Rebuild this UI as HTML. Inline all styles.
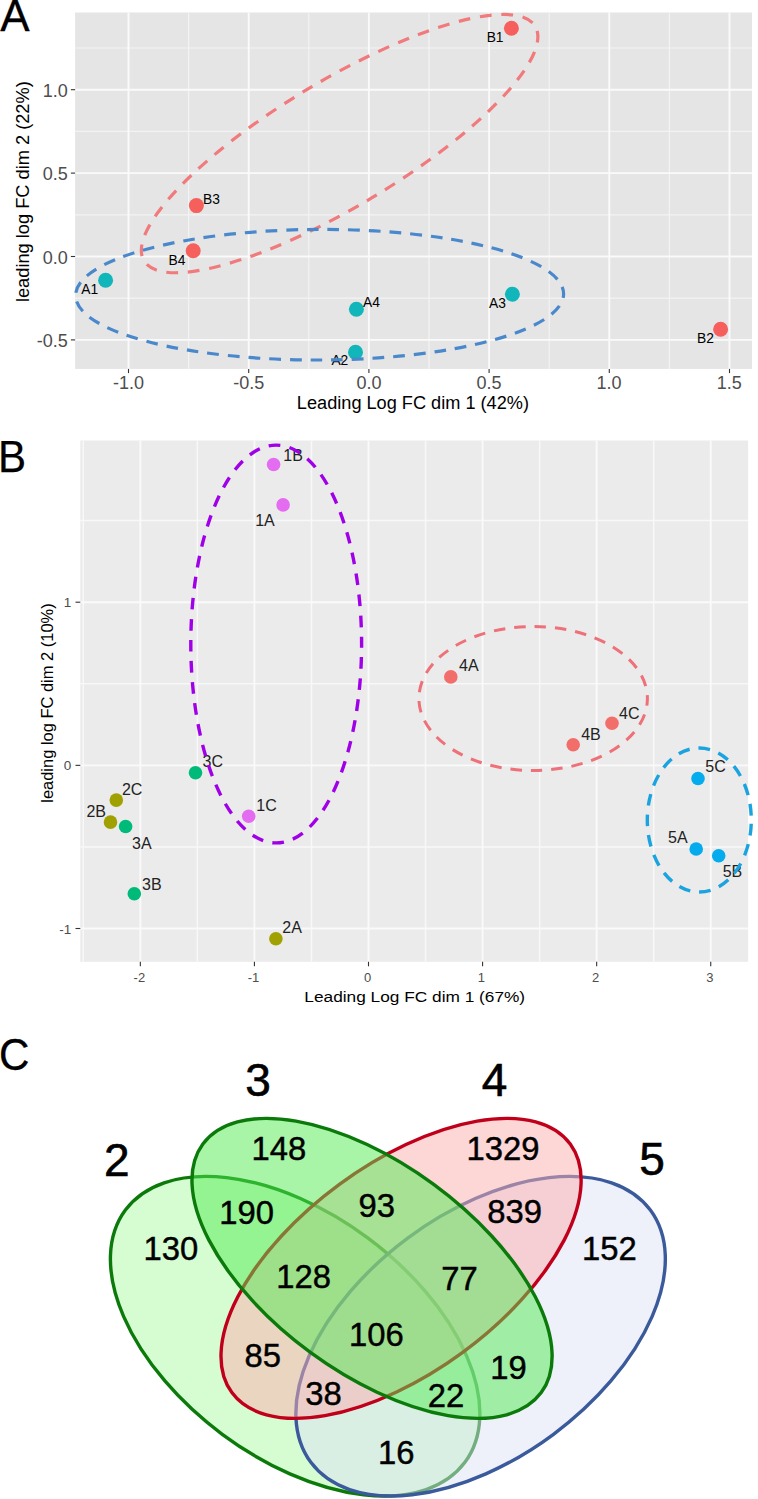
<!DOCTYPE html>
<html><head><meta charset="utf-8"><style>
html,body{margin:0;padding:0;background:#fff;width:758px;height:1499px;overflow:hidden}
svg{display:block;font-family:"Liberation Sans", sans-serif}
</style></head><body>
<svg width="758" height="1499" viewBox="0 0 758 1499">
<rect x="75.1" y="12.5" width="676.90" height="356.40" fill="#E5E5E5"/>
<line x1="188.60" y1="12.5" x2="188.60" y2="368.9" stroke="#F3F3F3" stroke-width="1.2"/>
<line x1="308.80" y1="12.5" x2="308.80" y2="368.9" stroke="#F3F3F3" stroke-width="1.2"/>
<line x1="429.00" y1="12.5" x2="429.00" y2="368.9" stroke="#F3F3F3" stroke-width="1.2"/>
<line x1="549.20" y1="12.5" x2="549.20" y2="368.9" stroke="#F3F3F3" stroke-width="1.2"/>
<line x1="669.40" y1="12.5" x2="669.40" y2="368.9" stroke="#F3F3F3" stroke-width="1.2"/>
<line x1="75.1" y1="298.20" x2="752.0" y2="298.20" stroke="#F3F3F3" stroke-width="1.2"/>
<line x1="75.1" y1="214.80" x2="752.0" y2="214.80" stroke="#F3F3F3" stroke-width="1.2"/>
<line x1="75.1" y1="131.40" x2="752.0" y2="131.40" stroke="#F3F3F3" stroke-width="1.2"/>
<line x1="75.1" y1="48.00" x2="752.0" y2="48.00" stroke="#F3F3F3" stroke-width="1.2"/>
<line x1="128.50" y1="12.5" x2="128.50" y2="368.9" stroke="#FAFAFA" stroke-width="1.9"/>
<line x1="128.50" y1="368.9" x2="128.50" y2="373.09999999999997" stroke="#333" stroke-width="1.1"/>
<text x="112.94" y="388.87" font-size="18" fill="#4D4D4D" >-1.0</text>
<line x1="248.70" y1="12.5" x2="248.70" y2="368.9" stroke="#FAFAFA" stroke-width="1.9"/>
<line x1="248.70" y1="368.9" x2="248.70" y2="373.09999999999997" stroke="#333" stroke-width="1.1"/>
<text x="233.17" y="388.87" font-size="18" fill="#4D4D4D" >-0.5</text>
<line x1="368.90" y1="12.5" x2="368.90" y2="368.9" stroke="#FAFAFA" stroke-width="1.9"/>
<line x1="368.90" y1="368.9" x2="368.90" y2="373.09999999999997" stroke="#333" stroke-width="1.1"/>
<text x="356.39" y="388.87" font-size="18" fill="#4D4D4D" >0.0</text>
<line x1="489.10" y1="12.5" x2="489.10" y2="368.9" stroke="#FAFAFA" stroke-width="1.9"/>
<line x1="489.10" y1="368.9" x2="489.10" y2="373.09999999999997" stroke="#333" stroke-width="1.1"/>
<text x="476.62" y="388.87" font-size="18" fill="#4D4D4D" >0.5</text>
<line x1="609.30" y1="12.5" x2="609.30" y2="368.9" stroke="#FAFAFA" stroke-width="1.9"/>
<line x1="609.30" y1="368.9" x2="609.30" y2="373.09999999999997" stroke="#333" stroke-width="1.1"/>
<text x="596.45" y="388.87" font-size="18" fill="#4D4D4D" >1.0</text>
<line x1="729.50" y1="12.5" x2="729.50" y2="368.9" stroke="#FAFAFA" stroke-width="1.9"/>
<line x1="729.50" y1="368.9" x2="729.50" y2="373.09999999999997" stroke="#333" stroke-width="1.1"/>
<text x="716.68" y="388.87" font-size="18" fill="#4D4D4D" >1.5</text>
<line x1="75.1" y1="339.90" x2="752.0" y2="339.90" stroke="#FAFAFA" stroke-width="1.9"/>
<line x1="70.89999999999999" y1="339.90" x2="75.1" y2="339.90" stroke="#333" stroke-width="1.1"/>
<text x="36.79" y="347.17" font-size="18" fill="#4D4D4D" >-0.5</text>
<line x1="75.1" y1="256.50" x2="752.0" y2="256.50" stroke="#FAFAFA" stroke-width="1.9"/>
<line x1="70.89999999999999" y1="256.50" x2="75.1" y2="256.50" stroke="#333" stroke-width="1.1"/>
<text x="42.73" y="263.77" font-size="18" fill="#4D4D4D" >0.0</text>
<line x1="75.1" y1="173.10" x2="752.0" y2="173.10" stroke="#FAFAFA" stroke-width="1.9"/>
<line x1="70.89999999999999" y1="173.10" x2="75.1" y2="173.10" stroke="#333" stroke-width="1.1"/>
<text x="42.78" y="180.37" font-size="18" fill="#4D4D4D" >0.5</text>
<line x1="75.1" y1="89.70" x2="752.0" y2="89.70" stroke="#FAFAFA" stroke-width="1.9"/>
<line x1="70.89999999999999" y1="89.70" x2="75.1" y2="89.70" stroke="#333" stroke-width="1.1"/>
<text x="42.73" y="96.97" font-size="18" fill="#4D4D4D" >1.0</text>
<text x="296.86" y="409.25" font-size="18" fill="#000" textLength="232.12" lengthAdjust="spacingAndGlyphs" >Leading Log FC dim 1 (42%)</text>
<g transform="translate(0,0)"></g>
<text transform="rotate(-90)" x="-302.08" y="29.20" font-size="18" fill="#000" textLength="220.86" lengthAdjust="spacingAndGlyphs">leading log FC dim 2 (22%)</text>
<circle cx="105.6" cy="280.3" r="7.5" fill="#10B6BA"/>
<circle cx="193.2" cy="250.7" r="7.5" fill="#F5605C"/>
<circle cx="196.4" cy="205.6" r="7.5" fill="#F5605C"/>
<circle cx="356.4" cy="309.3" r="7.5" fill="#10B6BA"/>
<circle cx="355.5" cy="352.3" r="7.5" fill="#10B6BA"/>
<circle cx="512.4" cy="294.2" r="7.5" fill="#10B6BA"/>
<circle cx="720.6" cy="329.2" r="7.5" fill="#F5605C"/>
<circle cx="511.4" cy="28.3" r="7.5" fill="#F5605C"/>
<text x="203.00" y="203.82" font-size="13.8" fill="#000" >B3</text>
<text x="168.60" y="265.45" font-size="13.8" fill="#000" >B4</text>
<text x="81.23" y="294.45" font-size="13.8" fill="#000" >A1</text>
<text x="363.10" y="306.65" font-size="13.8" fill="#000" >A4</text>
<text x="331.39" y="364.65" font-size="13.8" fill="#000" >A2</text>
<text x="486.68" y="41.85" font-size="13.8" fill="#000" >B1</text>
<text x="489.06" y="308.24" font-size="13.8" fill="#000" >A3</text>
<text x="697.03" y="342.79" font-size="13.8" fill="#000" >B2</text>
<ellipse cx="339.6" cy="143.6" rx="228.05" ry="63.1" transform="rotate(-30.94 339.6 143.6)" fill="none" stroke="#F07A7C" stroke-width="3.2" stroke-dasharray="11.753 9.761" stroke-dashoffset="16.515"/>
<ellipse cx="319.6" cy="294.7" rx="244" ry="65.3" transform="rotate(-0.2 319.6 294.7)" fill="none" stroke="#4A88CC" stroke-width="3.2" stroke-dasharray="11.731 8.948" stroke-dashoffset="7.700"/>
<text x="0.26" y="30.55" font-size="44" fill="#000" stroke="#000" stroke-width="0.3">A</text>
<rect x="80.3" y="440.5" width="667.80" height="521.30" fill="#EBEBEB"/>
<line x1="83.30" y1="440.5" x2="83.30" y2="961.8" stroke="#F8F8F8" stroke-width="1.5"/>
<line x1="197.38" y1="440.5" x2="197.38" y2="961.8" stroke="#F8F8F8" stroke-width="1.5"/>
<line x1="311.46" y1="440.5" x2="311.46" y2="961.8" stroke="#F8F8F8" stroke-width="1.5"/>
<line x1="425.54" y1="440.5" x2="425.54" y2="961.8" stroke="#F8F8F8" stroke-width="1.5"/>
<line x1="539.62" y1="440.5" x2="539.62" y2="961.8" stroke="#F8F8F8" stroke-width="1.5"/>
<line x1="653.70" y1="440.5" x2="653.70" y2="961.8" stroke="#F8F8F8" stroke-width="1.5"/>
<line x1="80.3" y1="846.93" x2="748.1" y2="846.93" stroke="#F8F8F8" stroke-width="1.5"/>
<line x1="80.3" y1="683.77" x2="748.1" y2="683.77" stroke="#F8F8F8" stroke-width="1.5"/>
<line x1="80.3" y1="520.62" x2="748.1" y2="520.62" stroke="#F8F8F8" stroke-width="1.5"/>
<line x1="140.34" y1="440.5" x2="140.34" y2="961.8" stroke="#FAFAFA" stroke-width="1.9"/>
<line x1="140.34" y1="961.8" x2="140.34" y2="966.3" stroke="#333" stroke-width="1.1"/>
<text x="133.60" y="982.45" font-size="13" fill="#4D4D4D" >-2</text>
<line x1="254.42" y1="440.5" x2="254.42" y2="961.8" stroke="#FAFAFA" stroke-width="1.9"/>
<line x1="254.42" y1="961.8" x2="254.42" y2="966.3" stroke="#333" stroke-width="1.1"/>
<text x="247.67" y="982.45" font-size="13" fill="#4D4D4D" >-1</text>
<line x1="368.50" y1="440.5" x2="368.50" y2="961.8" stroke="#FAFAFA" stroke-width="1.9"/>
<line x1="368.50" y1="961.8" x2="368.50" y2="966.3" stroke="#333" stroke-width="1.1"/>
<text x="363.89" y="982.32" font-size="13" fill="#4D4D4D" >0</text>
<line x1="482.58" y1="440.5" x2="482.58" y2="961.8" stroke="#FAFAFA" stroke-width="1.9"/>
<line x1="482.58" y1="961.8" x2="482.58" y2="966.3" stroke="#333" stroke-width="1.1"/>
<text x="477.79" y="982.45" font-size="13" fill="#4D4D4D" >1</text>
<line x1="596.66" y1="440.5" x2="596.66" y2="961.8" stroke="#FAFAFA" stroke-width="1.9"/>
<line x1="596.66" y1="961.8" x2="596.66" y2="966.3" stroke="#333" stroke-width="1.1"/>
<text x="592.05" y="982.45" font-size="13" fill="#4D4D4D" >2</text>
<line x1="710.74" y1="440.5" x2="710.74" y2="961.8" stroke="#FAFAFA" stroke-width="1.9"/>
<line x1="710.74" y1="961.8" x2="710.74" y2="966.3" stroke="#333" stroke-width="1.1"/>
<text x="706.16" y="982.32" font-size="13" fill="#4D4D4D" >3</text>
<line x1="80.3" y1="928.50" x2="748.1" y2="928.50" stroke="#FAFAFA" stroke-width="1.9"/>
<line x1="75.5" y1="928.50" x2="80.3" y2="928.50" stroke="#333" stroke-width="1.1"/>
<text x="59.31" y="933.55" font-size="13.5" fill="#4D4D4D" >-1</text>
<line x1="80.3" y1="765.35" x2="748.1" y2="765.35" stroke="#FAFAFA" stroke-width="1.9"/>
<line x1="75.5" y1="765.35" x2="80.3" y2="765.35" stroke="#333" stroke-width="1.1"/>
<text x="63.67" y="770.27" font-size="13.5" fill="#4D4D4D" >0</text>
<line x1="80.3" y1="602.20" x2="748.1" y2="602.20" stroke="#FAFAFA" stroke-width="1.9"/>
<line x1="75.5" y1="602.20" x2="80.3" y2="602.20" stroke="#333" stroke-width="1.1"/>
<text x="63.80" y="607.25" font-size="13.5" fill="#4D4D4D" >1</text>
<text x="304.33" y="1001.95" font-size="15.4" fill="#000" textLength="220.79" lengthAdjust="spacingAndGlyphs" >Leading Log FC dim 1 (67%)</text>
<text transform="rotate(-90)" x="-802.76" y="52.60" font-size="17" fill="#000" textLength="199.43" lengthAdjust="spacingAndGlyphs">leading log FC dim 2 (10%)</text>
<circle cx="273.6" cy="464.5" r="6.8" fill="#E46CF0"/>
<circle cx="283.1" cy="504.9" r="6.8" fill="#E46CF0"/>
<circle cx="248.7" cy="816.3" r="6.8" fill="#E46CF0"/>
<circle cx="195.5" cy="772.8" r="6.8" fill="#00BA7A"/>
<circle cx="116.3" cy="800.1" r="6.8" fill="#A0A000"/>
<circle cx="110.5" cy="822.1" r="6.8" fill="#A0A000"/>
<circle cx="125.6" cy="826.5" r="6.8" fill="#00BA7A"/>
<circle cx="134.3" cy="893.8" r="6.8" fill="#00BA7A"/>
<circle cx="275.9" cy="938.7" r="6.8" fill="#A0A000"/>
<circle cx="450.8" cy="676.9" r="6.8" fill="#F26E6B"/>
<circle cx="573.2" cy="744.8" r="6.8" fill="#F26E6B"/>
<circle cx="612" cy="723.2" r="6.8" fill="#F26E6B"/>
<circle cx="698" cy="778.5" r="6.8" fill="#04ACEE"/>
<circle cx="696.2" cy="849" r="6.8" fill="#04ACEE"/>
<circle cx="718.7" cy="855.8" r="6.8" fill="#04ACEE"/>
<text x="283.33" y="460.75" font-size="16" fill="#222" >1B</text>
<text x="255.22" y="526.15" font-size="16" fill="#222" >1A</text>
<text x="202.57" y="767.09" font-size="16" fill="#222" >3C</text>
<text x="121.93" y="794.69" font-size="16" fill="#222" >2C</text>
<text x="86.48" y="817.45" font-size="16" fill="#222" >2B</text>
<text x="132.03" y="848.59" font-size="16" fill="#222" >3A</text>
<text x="256.27" y="811.49" font-size="16" fill="#222" >1C</text>
<text x="142.03" y="889.89" font-size="16" fill="#222" >3B</text>
<text x="282.28" y="933.25" font-size="16" fill="#222" >2A</text>
<text x="459.00" y="671.35" font-size="16" fill="#222" >4A</text>
<text x="581.20" y="740.05" font-size="16" fill="#222" >4B</text>
<text x="619.09" y="718.59" font-size="16" fill="#222" >4C</text>
<text x="705.31" y="772.09" font-size="16" fill="#222" >5C</text>
<text x="668.11" y="843.49" font-size="16" fill="#222" >5A</text>
<text x="722.72" y="877.29" font-size="16" fill="#222" >5B</text>
<ellipse cx="276.2" cy="644" rx="85.4" ry="198.9" fill="none" stroke="#A000E8" stroke-width="3.4" stroke-dasharray="11.709 9.407" stroke-dashoffset="7.900"/>
<ellipse cx="533.15" cy="698.5" rx="114.25" ry="72" fill="none" stroke="#EE7078" stroke-width="3.0" stroke-dasharray="11.465 8.972" stroke-dashoffset="4.200"/>
<ellipse cx="699.3" cy="820" rx="52" ry="72" fill="none" stroke="#1BA3DF" stroke-width="3.4" stroke-dasharray="11.749 8.888" stroke-dashoffset="16.837"/>
<text x="-2.10" y="471.85" font-size="44" fill="#000" textLength="28.07" lengthAdjust="spacingAndGlyphs" stroke="#000" stroke-width="0.25">B</text>
<text x="-0.99" y="1069.92" font-size="44" fill="#000" textLength="30.45" lengthAdjust="spacingAndGlyphs" stroke="#000" stroke-width="0.3">C</text>
<ellipse cx="295.14" cy="1336.2" rx="211.5" ry="122.2" transform="rotate(36.62 295.14 1336.2)" fill="#ADF9A5" fill-opacity="0.5" stroke="#0B7A0B" stroke-width="3.4"/>
<ellipse cx="480.6" cy="1336.2" rx="211.5" ry="122.2" transform="rotate(-36.62 480.6 1336.2)" fill="#DDE1F5" fill-opacity="0.5" stroke="#3A5A9C" stroke-width="3.4"/>
<ellipse cx="401.06" cy="1268.35" rx="209.9" ry="104.2" transform="rotate(-36.29 401.06 1268.35)" fill="#FBADAD" fill-opacity="0.5" stroke="#C0001A" stroke-width="3.4"/>
<ellipse cx="372.04" cy="1268.35" rx="209.9" ry="104.2" transform="rotate(36.29 372.04 1268.35)" fill="#51EB51" fill-opacity="0.5" stroke="#0B7A0B" stroke-width="3.4"/>
<text x="103.91" y="1175.55" font-size="46" fill="#000" stroke="#000" stroke-width="0.6">2</text>
<text x="245.24" y="1096.20" font-size="46" fill="#000" stroke="#000" stroke-width="0.6">3</text>
<text x="481.70" y="1096.05" font-size="46" fill="#000" stroke="#000" stroke-width="0.6">4</text>
<text x="639.30" y="1174.70" font-size="46" fill="#000" stroke="#000" stroke-width="0.6">5</text>
<text x="251.55" y="1160.18" font-size="32.8" fill="#000" stroke="#000" stroke-width="0.45">148</text>
<text x="219.23" y="1224.28" font-size="32.8" fill="#000" stroke="#000" stroke-width="0.45">190</text>
<text x="143.43" y="1259.68" font-size="32.8" fill="#000" stroke="#000" stroke-width="0.45">130</text>
<text x="358.41" y="1217.48" font-size="32.8" fill="#000" stroke="#000" stroke-width="0.45">93</text>
<text x="276.25" y="1287.78" font-size="32.8" fill="#000" stroke="#000" stroke-width="0.45">128</text>
<text x="466.59" y="1159.68" font-size="32.8" fill="#000" stroke="#000" stroke-width="0.45">1329</text>
<text x="487.30" y="1223.18" font-size="32.8" fill="#000" stroke="#000" stroke-width="0.45">839</text>
<text x="582.01" y="1259.88" font-size="32.8" fill="#000" stroke="#000" stroke-width="0.45">152</text>
<text x="441.29" y="1289.70" font-size="32.8" fill="#000" stroke="#000" stroke-width="0.45">77</text>
<text x="490.19" y="1379.28" font-size="32.8" fill="#000" stroke="#000" stroke-width="0.45">19</text>
<text x="349.06" y="1346.18" font-size="32.8" fill="#000" stroke="#000" stroke-width="0.45">106</text>
<text x="244.53" y="1367.18" font-size="32.8" fill="#000" stroke="#000" stroke-width="0.45">85</text>
<text x="305.25" y="1405.28" font-size="32.8" fill="#000" stroke="#000" stroke-width="0.45">38</text>
<text x="427.76" y="1406.70" font-size="32.8" fill="#000" stroke="#000" stroke-width="0.45">22</text>
<text x="378.08" y="1463.58" font-size="32.8" fill="#000" stroke="#000" stroke-width="0.45">16</text>
</svg></body></html>
